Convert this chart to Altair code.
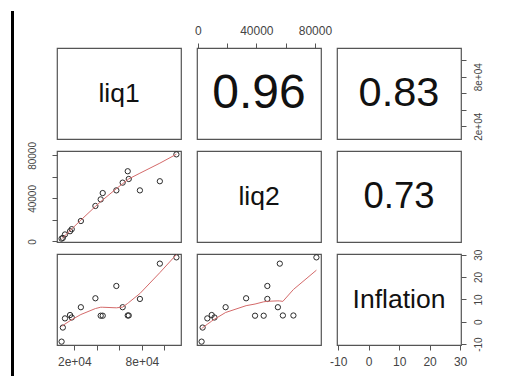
import altair as alt
import numpy as np
import pandas as pd

liq1 = [110600, 95900, 57300, 78200, 25800, 62900, 38700, 43400, 45200,
        67400, 68300, 16200, 17700, 11700, 9800, 8700]
liq2 = [81000, 56000, 47500, 47500, 19000, 54700, 33000, 39100, 45000,
        65300, 58100, 9500, 11400, 6500, 3300, 2600]
inflation = [28.8, 26.0, 16.0, 10.2, 6.5, 6.5, 10.5, 2.7, 2.7,
             2.8, 2.8, 3.0, 1.9, 1.5, -2.6, -8.9]

var_names = ["liq1", "liq2", "Inflation"]
corr_values = {(0, 1): 0.96, (0, 2): 0.83, (1, 2): 0.73}

liq1_ticks = [20000, 40000, 60000, 80000, 100000]
liq1_tick_labels = {20000: "2e+04", 80000: "8e+04"}
liq2_ticks = [0, 20000, 40000, 60000, 80000]
liq2_tick_labels = {0: "0", 40000: "40000", 80000: "80000"}
infl_ticks = [-10, 0, 10, 20, 30]
infl_tick_labels = {-10: "-10", 0: "0", 10: "10", 20: "20", 30: "30"}

# robustness iterations of the lowess smoother per lower panel
smooth_iters = {(1, 0): 3, (2, 0): 3, (2, 1): 0}

df = pd.DataFrame({"liq1": liq1, "liq2": liq2, "Inflation": inflation})


def _lowest(x, y, n, xs, nleft, nright, rw, userw, rng):
    h = max(xs - x[nleft], x[nright] - xs)
    h9, h1 = 0.999 * h, 0.001 * h
    w = np.zeros(n)
    a = 0.0
    j = nleft
    while j < n:
        r = abs(x[j] - xs)
        if r <= h9:
            w[j] = 1.0 if r <= h1 else (1 - (r / h) ** 3) ** 3
            if userw:
                w[j] *= rw[j]
            a += w[j]
        elif x[j] > xs:
            break
        j += 1
    nrt = j - 1
    if a <= 0:
        return 0.0, False
    idx = np.arange(nleft, nrt + 1)
    w[idx] /= a
    if h > 0:
        a = (w[idx] * x[idx]).sum()
        b = xs - a
        c = (w[idx] * (x[idx] - a) ** 2).sum()
        if np.sqrt(c) > 0.001 * rng:
            b /= c
            w[idx] = w[idx] * (b * (x[idx] - a) + 1)
    return (w[idx] * y[idx]).sum(), True


def lowess(xs, ys, f=2 / 3, nsteps=3):
    """Port of R's clowess, as used by panel.smooth in pairs()."""
    order = np.argsort(xs, kind="stable")
    x = np.asarray(xs, float)[order]
    y = np.asarray(ys, float)[order]
    n = len(x)
    rng = x[-1] - x[0]
    delta = 0.01 * rng
    ns = max(2, min(n, int(f * n + 1e-7)))
    rw = np.ones(n)
    fit = np.zeros(n)
    for it in range(1, nsteps + 2):
        nleft, nright, last, i = 0, ns - 1, -1, 0
        while True:
            if nright < n - 1:
                if x[i] - x[nleft] > x[nright + 1] - x[i]:
                    nleft += 1
                    nright += 1
                    continue
            val, ok = _lowest(x, y, n, x[i], nleft, nright, rw, it > 1, rng)
            fit[i] = val if ok else y[i]
            if last < i - 1:
                denom = x[i] - x[last]
                for j in range(last + 1, i):
                    alpha = (x[j] - x[last]) / denom
                    fit[j] = alpha * fit[i] + (1 - alpha) * fit[last]
            last = i
            cut = x[last] + delta
            i = last + 1
            while i < n:
                if x[i] > cut:
                    break
                if x[i] == x[last]:
                    fit[i] = fit[last]
                    last = i
                i += 1
            i = max(last + 1, i - 1)
            if last >= n - 1:
                break
        if it > nsteps:
            break
        res = np.abs(y - fit)
        cmad = 6 * np.median(res)
        if cmad < 1e-7 * res.mean():
            break
        rw = np.where(res <= 0.001 * cmad, 1.0,
                      np.where(res <= 0.999 * cmad, (1 - (res / cmad) ** 2) ** 2, 0.0))
    return x, fit


def padded(vals):
    lo, hi = min(vals), max(vals)
    r = hi - lo
    return [lo - 0.04 * r, hi + 0.04 * r]


dom = {v: padded(df[v].tolist()) for v in var_names}
ticks = {"liq1": (liq1_ticks, liq1_tick_labels),
         "liq2": (liq2_ticks, liq2_tick_labels),
         "Inflation": (infl_ticks, infl_tick_labels)}

W, H = 124, 91
FONT = "Liberation Sans"


def label_expr(lbls):
    parts = "".join(f"datum.value == {k} ? '{v}' : " for k, v in lbls.items())
    return parts + "''"


def make_axis(var, orient):
    vals, lbls = ticks[var]
    kw = dict(orient=orient, values=vals, labelExpr=label_expr(lbls), title=None,
              domain=False, grid=False, tickSize=5, tickColor="#555",
              labelColor="#444", labelFont=FONT, labelFlush=False, labelOverlap=False)
    if orient == "left":
        kw.update(labelAngle=270, labelAlign="center", labelBaseline="bottom",
                  labelPadding=15, labelFontSize=10)
    elif orient == "right":
        kw.update(labelAngle=270, labelAlign="center", labelBaseline="top",
                  labelPadding=7, labelFontSize=10)
    else:
        kw.update(labelPadding=6, labelFontSize=12)
    return alt.Axis(**kw)


axes_map = {
    (0, 1): ("top", None),
    (0, 2): (None, "right"),
    (1, 0): (None, "left"),
    (2, 0): ("bottom", None),
    (2, 2): ("bottom", "right"),
}


def enc_x(field, var, orient):
    return alt.X(f"{field}:Q", scale=alt.Scale(domain=dom[var], nice=False, zero=False),
                 axis=make_axis(var, orient) if orient else None)


def enc_y(field, var, orient):
    return alt.Y(f"{field}:Q", scale=alt.Scale(domain=dom[var], nice=False, zero=False),
                 axis=make_axis(var, orient) if orient else None)


# screenshot frame: thick black edge on the left of the matrix
frame_left = alt.Chart(pd.DataFrame({"k": [0]})).mark_rule(
    color="black", strokeWidth=3).encode(
    x=alt.value(-44.5), y=alt.value(-37), y2=alt.value(331))

panels = []
for r in range(3):
    for c in range(3):
        xv, yv = var_names[c], var_names[r]
        xo, yo = axes_map.get((r, c), (None, None))
        if r <= c:
            if r == c:
                txt, size = var_names[r], 26.5
            else:
                val = corr_values[(r, c)]
                txt = f"{val:.2f}"
                size = 50 * val  # R's panel.cor scales text by r
            tdf = pd.DataFrame({"xc": [sum(dom[xv]) / 2], "yc": [sum(dom[yv]) / 2],
                                "label": [txt]})
            ch = alt.Chart(tdf).mark_text(font=FONT, fontSize=size, color="#111",
                                          align="center", baseline="middle").encode(
                x=enc_x("xc", xv, xo), y=enc_y("yc", yv, yo), text="label:N",
            )
            if (r, c) == (0, 0):
                ch = alt.layer(ch, frame_left)
            ch = ch.properties(width=W, height=H)
        else:
            sx, sy = lowess(df[xv].tolist(), df[yv].tolist(), nsteps=smooth_iters[(r, c)])
            ldf = pd.DataFrame({"sx": sx, "sy": sy})
            pts = alt.Chart(df).mark_point(shape="circle", filled=False, size=28,
                                           color="#2a2a2a", strokeWidth=1, opacity=1).encode(
                x=enc_x(xv, xv, xo), y=enc_y(yv, yv, yo))
            line = alt.Chart(ldf).mark_line(color="#d46a6a", strokeWidth=1).encode(
                x=enc_x("sx", xv, xo), y=enc_y("sy", yv, yo), order="sx:Q")
            ch = alt.layer(pts, line).properties(width=W, height=H)
        panels.append(ch)

chart = alt.concat(*panels, columns=3, spacing={"row": 12, "column": 16},
                   bounds="flush").properties(
    padding={"left": 2, "top": 0, "right": 5, "bottom": 0},
    background="white",
).configure_view(stroke="#555", strokeWidth=1.2)

chart.save("out.html", embed_options={"renderer": "svg", "actions": False})
